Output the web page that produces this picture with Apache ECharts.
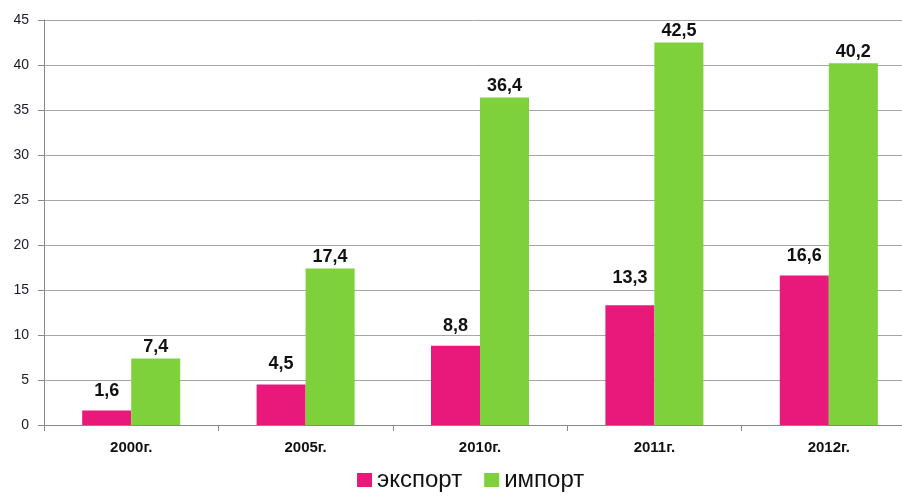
<!DOCTYPE html>
<html>
<head>
<meta charset="utf-8">
<script src="https://cdn.jsdelivr.net/npm/echarts@6/dist/echarts.min.js"></script>
<style>
  html, body { margin: 0; padding: 0; background: #fff; }
  #chart { width: 902px; height: 498px; }
</style>
</head>
<body>
<div id="chart"></div>
<script>
// Years on the category axis
const years = ['2000г.', '2005г.', '2010г.', '2011г.', '2012г.'];
// Export and import volumes
const exportValues = [1.6, 4.5, 8.8, 13.3, 16.6];
const importValues = [7.4, 17.4, 36.4, 42.5, 40.2];
// Value axis range
const yMin = 0;
const yMax = 45;
const yStep = 5;

const fmt = p => String(p.value).replace('.', ',');

const labelStyle = {
  show: true,
  position: 'top',
  formatter: fmt,
  color: '#111',
  fontFamily: 'Liberation Sans, Arial, sans-serif',
  fontWeight: 'bold',
  fontSize: 18
};

const chart = echarts.init(document.getElementById('chart'), null, { renderer: 'canvas' });
chart.setOption({
  animation: false,
  backgroundColor: '#ffffff',
  // the plot runs slightly past the right edge of the canvas
  grid: {
    left: 44, width: 872, top: 20, height: 405,
    containLabel: false,
    outerBoundsMode: 'none'
  },
  legend: {
    bottom: 1,
    left: 352,
    itemWidth: 15,
    itemHeight: 14,
    itemGap: 22,
    icon: 'rect',
    textStyle: { fontSize: 24, color: '#111', fontFamily: 'Liberation Sans, Arial, sans-serif' },
    data: ['экспорт', 'импорт']
  },
  xAxis: {
    type: 'category',
    data: years,
    boundaryGap: true,
    axisLine: { lineStyle: { color: '#888', width: 1 } },
    axisTick: { show: true, length: 6, lineStyle: { color: '#888' } },
    axisLabel: {
      margin: 15,
      color: '#111',
      fontWeight: 'bold',
      fontSize: 15,
      fontFamily: 'Liberation Sans, Arial, sans-serif'
    }
  },
  yAxis: {
    type: 'value',
    min: yMin,
    max: yMax,
    interval: yStep,
    axisLine: { show: true, lineStyle: { color: '#888', width: 1 } },
    axisTick: { show: true, length: 6, lineStyle: { color: '#888' } },
    axisLabel: {
      margin: 15,
      color: '#1a1a2a',
      fontSize: 14,
      fontFamily: 'Liberation Sans, Arial, sans-serif'
    },
    splitLine: { show: true, lineStyle: { color: '#a6a6a6', width: 1 } }
  },
  series: [
    {
      name: 'экспорт',
      type: 'bar',
      barWidth: 49,
      barGap: '0%',
      itemStyle: { color: '#e8197a' },
      label: Object.assign({}, labelStyle, { distance: 11 }),
      data: exportValues.map((v, i) => i === 3
        ? { value: v, label: { distance: 18 } }
        : { value: v })
    },
    {
      name: 'импорт',
      type: 'bar',
      barWidth: 49,
      barGap: '0%',
      itemStyle: { color: '#7fd13b' },
      label: Object.assign({}, labelStyle, { distance: 2 }),
      data: importValues
    }
  ]
});
</script>
</body>
</html>
